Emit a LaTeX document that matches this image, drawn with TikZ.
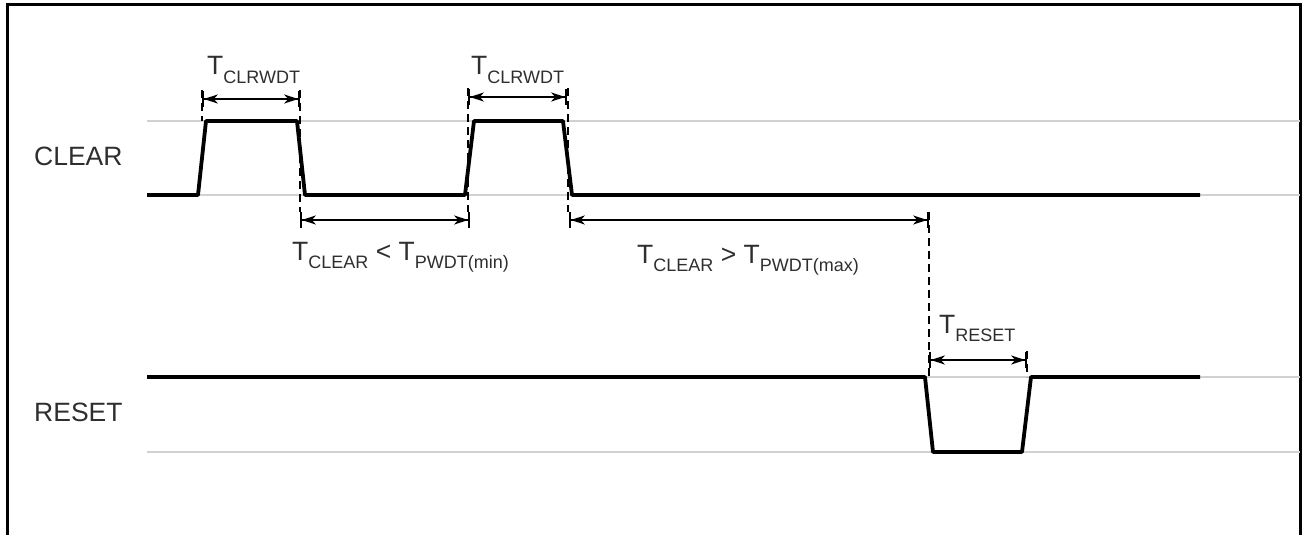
\documentclass[tikz,border=0pt]{standalone}
\usepackage{fontspec}
\setmainfont{Liberation Sans}
\usetikzlibrary{arrows.meta}
\newcommand{\sbs}[1]{\raisebox{-8.5pt}{\fontsize{18}{21}\selectfont #1}}
\tikzset{
  guide/.style={draw=black!18, line width=1.5pt},
  sig/.style={line width=3.8pt, line join=round},
  ext/.style={line width=1.8pt, dash pattern=on 8pt off 5pt},
  dim/.style={line width=2pt, {Bar[width=16pt,line width=1.8pt]Stealth[length=14pt,width=9pt,inset=4pt]}-{Stealth[length=14pt,width=9pt,inset=4pt]Bar[width=16pt,line width=1.8pt]}},
  lbl/.style={font=\fontsize{26.5}{31}\selectfont, text=black!82, inner sep=0pt, anchor=base west},
}
\begin{document}
\begin{tikzpicture}[x=1pt,y=-1pt]
\useasboundingbox (0,0) rectangle (1302,535);
% frame
\draw[line width=3pt] (7,535) -- (7,5) -- (1300.5,5) -- (1300.5,535);
% guide lines
\draw[guide] (147,121) -- (1300,121);
\draw[guide] (147,195) -- (1300,195);
\draw[guide] (147,377) -- (1300,377);
\draw[guide] (147,452) -- (1300,452);
% coordinates
\coordinate (c1) at (202,99);  \coordinate (c2) at (300,99);
\coordinate (c3) at (468,97);  \coordinate (c4) at (567,97);
\coordinate (d1) at (300,220); \coordinate (d2) at (470,220);
\coordinate (d3) at (569,220); \coordinate (d4) at (929,220);
\coordinate (r1) at (929,360); \coordinate (r2) at (1027,360);
% extension lines
\draw[ext] (202,90) -- (202,121);
\draw[ext] (300,90) -- (300,212);
\draw[ext] (468,88) -- (468,212);
\draw[ext] (568,88) -- (568,212);
\draw[ext] (929,212) -- (929,377);
\draw[ext] (1027,351) -- (1027,377);
% signals
\draw[sig] (147,195) -- (198,195) -- (206,121) -- (297,121) -- (305,195) -- (465,195) -- (474,121) -- (563,121) -- (572,195) -- (1200,195);
\draw[sig] (147,377) -- (925,377) -- (933,452) -- (1022,452) -- (1031,377) -- (1200,377);
% dimension arrows
\draw[dim] (c1) -- (c2);
\draw[dim] (c3) -- (c4);
\draw[dim] (d1) -- (d2);
\draw[dim] (d3) -- (d4);
\draw[dim] (r1) -- (r2);
% labels
\node[lbl] (clear) at (34,165) {CLEAR};
\node[lbl] (reset) at (34,421) {RESET};
\node[lbl] (tc1) at (207,75) {T\sbs{CLRWDT}};
\node[lbl] (tc2) at (471,75) {T\sbs{CLRWDT}};
\node[lbl] (tcl1) at (292,260) {T\sbs{CLEAR} < T\sbs{PWDT(min)}};
\node[lbl] (tcl2) at (637,263) {T\sbs{CLEAR} > T\sbs{PWDT(max)}};
\node[lbl] (trs) at (939,333) {T\sbs{RESET}};
\end{tikzpicture}
\end{document}
